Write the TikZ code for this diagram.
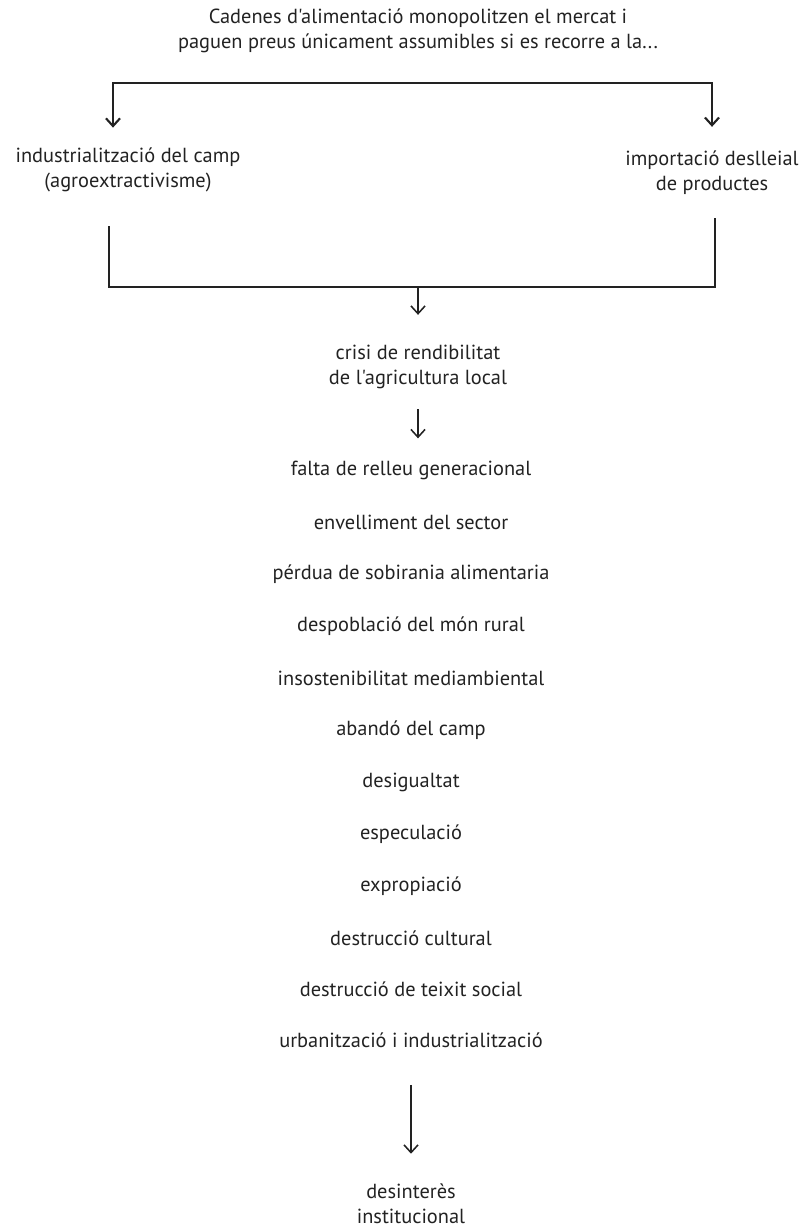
\documentclass[tikz,border=0pt]{standalone}
\usepackage{fontspec}
\newfontfamily\diagfont{PT Sans}
\usetikzlibrary{arrows.meta}
\definecolor{inkgray}{HTML}{222222}

\begin{document}
\begin{tikzpicture}[x=0.025cm,y=-0.025cm,
    >={Straight Barb[length=5.5pt,width=10pt]},
    txt/.style={align=center,inner sep=0pt,text=inkgray,font=\diagfont\fontsize{14.5}{17.8}\selectfont},
    link/.style={draw=inkgray,line width=1.5pt},
    arr/.style={draw=inkgray,line width=1.1pt,->}]
    \useasboundingbox (0,0) rectangle (809,1231);
    % question and the two answers
    \node[txt] (title) at (418,31) {Cadenes d'alimentació monopolitzen el mercat i\\paguen preus únicament assumibles si es recorre a la...};
    \node[txt] (indus) at (128,170) {industrialització del camp\\(agroextractivisme)};
    \node[txt] (import) at (712,173) {importació deslleial\\de productes};
    % top bracket
    \coordinate (topL) at (113,83);
    \coordinate (topR) at (712,83);
    \draw[link,<->,shorten <=0.5cm,shorten >=0.6cm] (indus.north -| topL) |- (topR) -- (import.north -| topR);
    % bottom bracket
    \coordinate (botL) at (109,287);
    \coordinate (botR) at (715,287);
    \draw[link,shorten <=0.85cm,shorten >=0.57cm] (indus.south -| botL) |- (botR) -- (import.south -| botR);
    % crisis
    \node[txt] (crisi) at (418,367) {crisi de rendibilitat\\de l'agricultura local};
    \draw[arr,shorten >=0.75cm] (crisi |- botL) -- (crisi.north);
    % consequences
    \node[txt] (relleu) at (411,470) {falta de relleu generacional};
    \node[txt] (envell) at (411,522) {envelliment del sector};
    \node[txt] (sobira) at (411,574) {pérdua de sobirania alimentaria};
    \node[txt] (despob) at (411,626) {despoblació del món rural};
    \node[txt] (insost) at (411,678) {insostenibilitat mediambiental};
    \node[txt] (abando) at (411,730) {abandó del camp};
    \node[txt] (desigu) at (411,782) {desigualtat};
    \node[txt] (especu) at (411,834) {especulació};
    \node[txt] (exprop) at (411,886) {expropiació};
    \node[txt] (cultur) at (411,938) {destrucció cultural};
    \node[txt] (teixit) at (411,989) {destrucció de teixit social};
    \node[txt] (urbani) at (411,1040) {urbanització i industrialització};
    \draw[arr,shorten <=0.5cm,shorten >=0.55cm] (crisi.south) -- (crisi.south |- relleu.north);
    % institutions
    \node[txt] (desint) at (411,1204) {desinterès\\institucional};
    \draw[arr,shorten <=0.93cm,shorten >=0.75cm] (urbani.south) -- (desint.north);
\end{tikzpicture}
\end{document}
